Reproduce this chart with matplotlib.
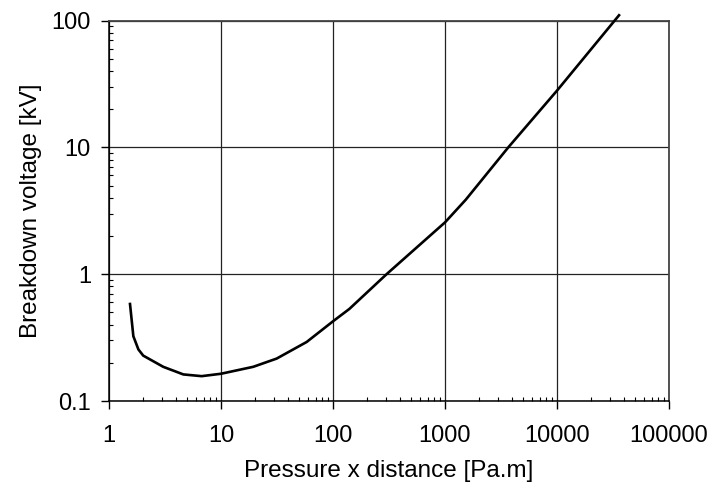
"""Paschen curve: breakdown voltage vs pressure x distance."""

import matplotlib
matplotlib.use("Agg")
import matplotlib.pyplot as plt
from matplotlib.ticker import LogLocator, FixedLocator, NullFormatter

plt.rcParams["font.family"] = ["Liberation Sans", "DejaVu Sans"]

# values
pd_values = [1.54, 1.65, 1.83, 2.02, 3.05, 4.61, 6.72, 10, 19.4, 31.4, 58.2,
             100, 140, 301, 1000, 1531, 3675, 10000, 35800]
voltage_kv = [0.582, 0.324, 0.255, 0.228, 0.186, 0.162, 0.157, 0.164, 0.186,
              0.216, 0.292, 0.425, 0.532, 1.0, 2.56, 3.86, 10, 28, 110]

x_ticks = [1, 10, 100, 1000, 10000, 100000]
x_ticklabels = ["1", "10", "100", "1000", "10000", "100000"]
y_ticks = [0.1, 1, 10, 100]
y_ticklabels = ["0.1", "1", "10", "100"]

fig = plt.figure(figsize=(7.11, 4.92), dpi=100)
ax = fig.add_axes([109 / 711, 1 - 401 / 492, 560 / 711, 380.5 / 492])

ax.plot(pd_values, voltage_kv, color="black", linewidth=1.9, clip_on=False, zorder=3)

ax.set_xscale("log")
ax.set_yscale("log")
ax.set_xlim(1, 100000)
ax.set_ylim(0.1, 100)

ax.xaxis.set_major_locator(FixedLocator(x_ticks))
ax.set_xticklabels(x_ticklabels)
ax.yaxis.set_major_locator(FixedLocator(y_ticks))
ax.set_yticklabels(y_ticklabels)
ax.xaxis.set_minor_locator(LogLocator(base=10, subs=range(2, 10)))
ax.yaxis.set_minor_locator(LogLocator(base=10, subs=range(2, 10)))
ax.xaxis.set_minor_formatter(NullFormatter())
ax.yaxis.set_minor_formatter(NullFormatter())

ax.tick_params(which="major", direction="out", length=6, width=1, labelsize=17, color="black")
ax.tick_params(axis="x", which="major", pad=11)
ax.tick_params(axis="y", which="major", pad=7)
ax.tick_params(which="minor", direction="in", length=3, width=0.8, color="black")

ax.grid(True, which="major", color="#222222", linewidth=0.9)
for side in ["left", "bottom"]:
    ax.spines[side].set_linewidth(1.1)
for side in ["top", "right"]:
    ax.spines[side].set_color("#444444")
    ax.spines[side].set_linewidth(1.3)

ax.set_xlabel("Pressure x distance [Pa.m]", fontsize=17.5, labelpad=10)
ax.set_ylabel("Breakdown voltage [kV]", fontsize=17.5, labelpad=7)

fig.savefig("out.png", dpi=100)
plt.close(fig)
